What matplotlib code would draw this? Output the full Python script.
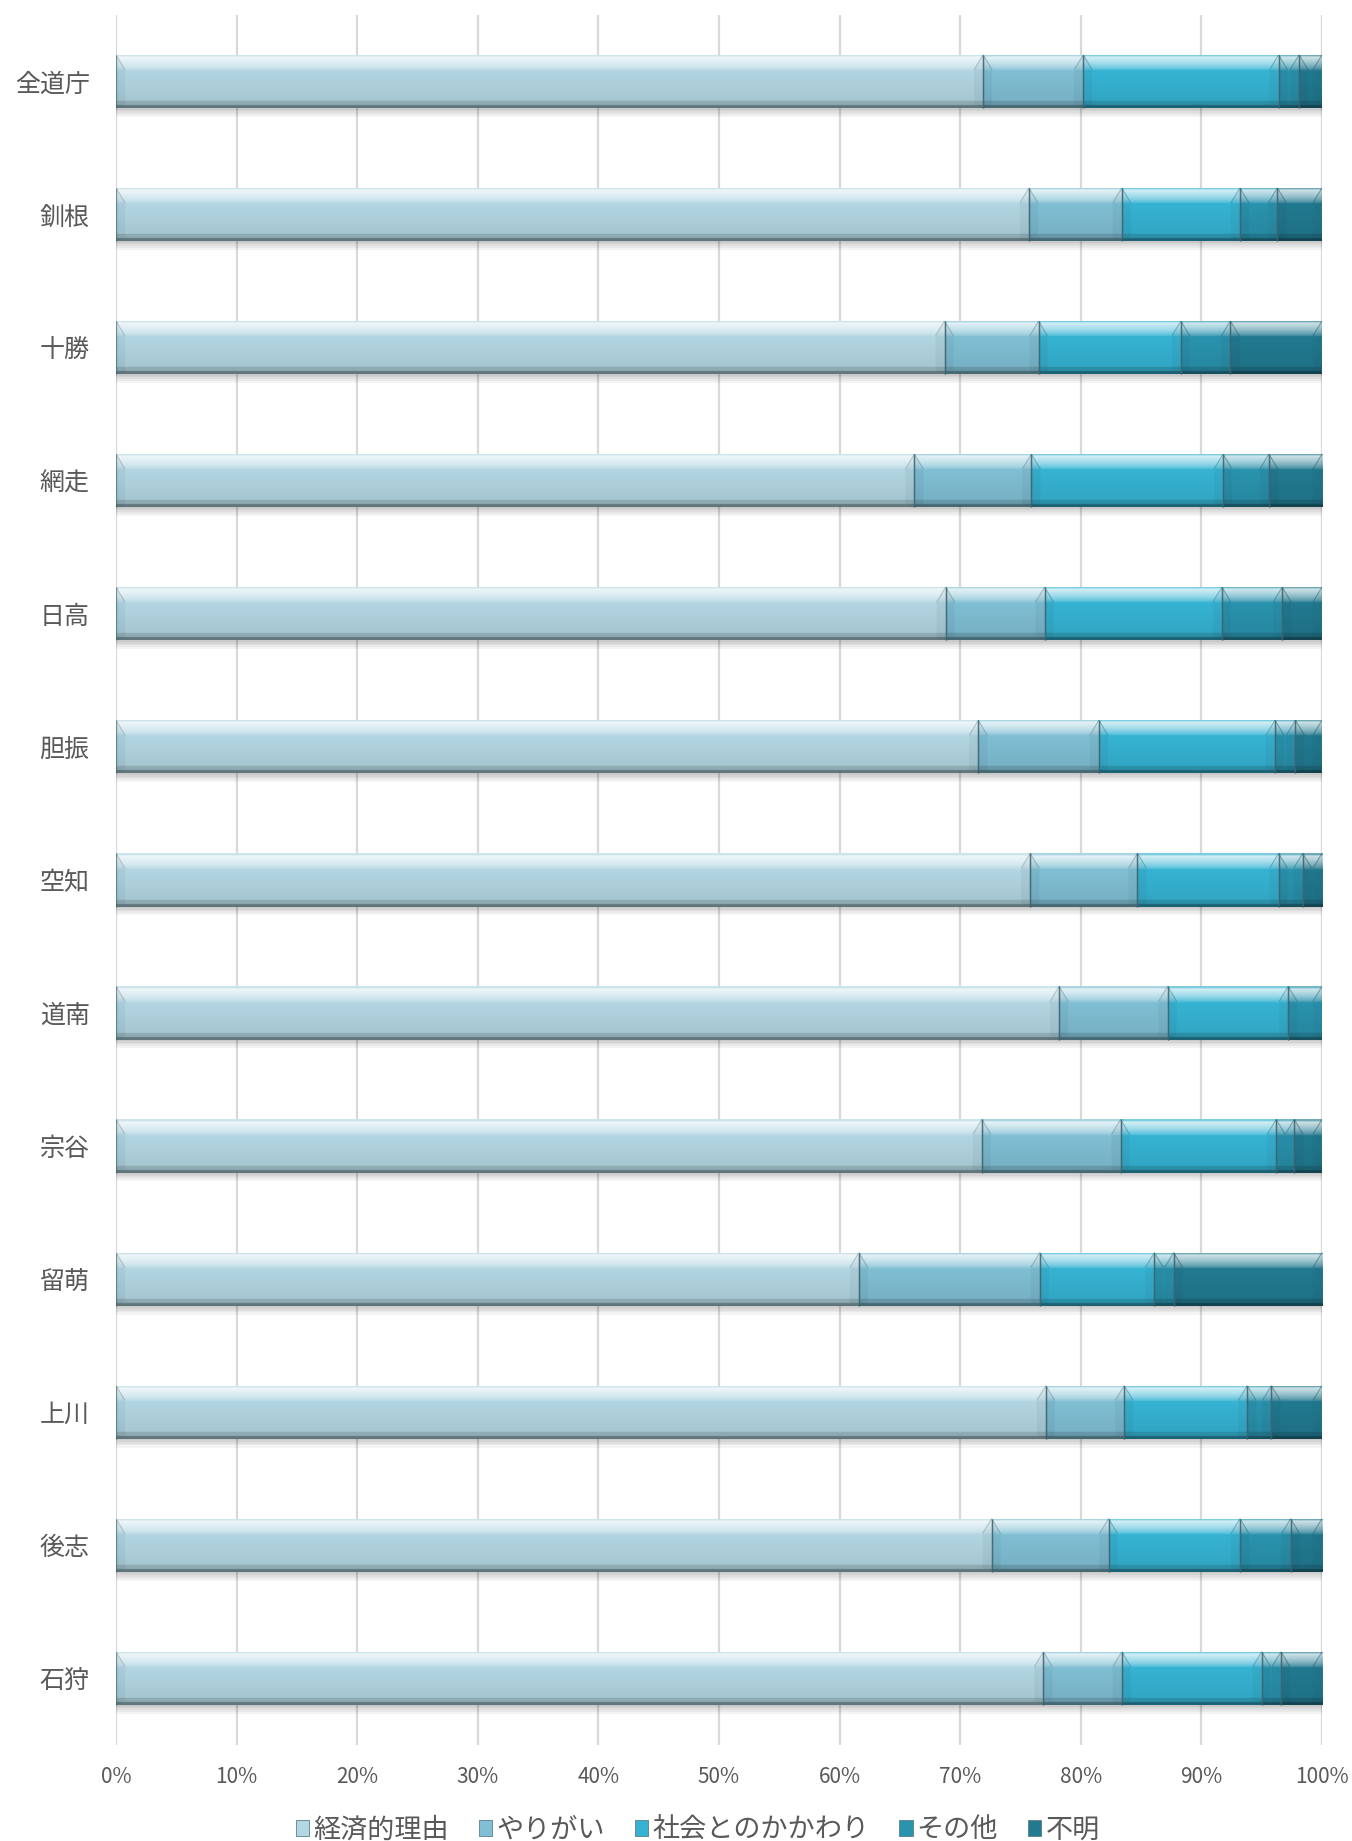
import numpy as np
import matplotlib
matplotlib.use("Agg")
import matplotlib.pyplot as plt
from matplotlib.colors import to_rgb
from matplotlib.patches import Patch

plt.rcParams['font.family'] = ['Noto Sans CJK JP', 'DejaVu Sans']

# ---- data (percent of respondents per region) ----
regions = ["全道庁", "釧根", "十勝", "網走", "日高", "胆振", "空知",
           "道南", "宗谷", "留萌", "上川", "後志", "石狩"]
series_names = ["経済的理由", "やりがい", "社会とのかかわり", "その他", "不明"]
economic   = [71.9, 75.7, 68.7, 66.2, 68.8, 71.5, 75.8, 78.2, 71.8, 61.6, 77.1, 72.6, 76.9]
fulfilment = [8.3, 7.7, 7.8, 9.7, 8.2, 10.0, 8.9, 9.0, 11.5, 15.0, 6.5, 9.7, 6.5]
social     = [16.2, 9.8, 11.8, 15.9, 14.7, 14.6, 11.7, 10.0, 12.9, 9.5, 10.2, 10.9, 11.6]
other      = [1.7, 3.1, 4.1, 3.8, 5.0, 1.7, 2.0, 2.8, 1.5, 1.6, 2.0, 4.2, 1.6]
unknown    = [1.9, 3.7, 7.6, 4.4, 3.3, 2.2, 1.6, 0.0, 2.3, 12.3, 4.2, 2.6, 3.4]
tick_values = [0, 10, 20, 30, 40, 50, 60, 70, 80, 90, 100]
tick_labels = ["0%", "10%", "20%", "30%", "40%", "50%", "60%", "70%", "80%", "90%", "100%"]

series = [economic, fulfilment, social, other, unknown]
colors = ["#b2d6e2", "#80bfd4", "#36b3d3", "#2a93ae", "#227a91"]
text_color = "#595959"
bar_h = 0.4


def bevel_gradient(base, n=90):
    """Vertical colour ramp giving a bevelled, glossy bar look."""
    base = np.array(to_rgb(base))
    white = np.ones(3)
    rows = []
    for t in np.linspace(0, 1, n):
        if t < 0.035:
            c = base + (white - base) * 0.35
        elif t < 0.30:
            k = 0.80 * (1 - (t - 0.035) / 0.265) ** 0.6
            c = base + (white - base) * k
        elif t < 0.87:
            c = base * (1 - 0.07 * (t - 0.30) / 0.57)
        elif t < 0.955:
            c = base * 0.80
        else:
            c = base * 0.55
        rows.append(np.clip(c, 0, 1))
    return np.array(rows)[:, None, :]


fig = plt.figure(figsize=(13.52, 18.41), dpi=100)
ax = fig.add_axes([0.0858, 0.0522, 0.892, 0.9397])

ypos = np.arange(len(regions))[::-1].astype(float)
totals = np.sum(np.array(series), axis=0)

# soft drop shadow under each bar
for off in [0.012, 0.024, 0.036, 0.050, 0.066]:
    ax.barh(ypos - off, totals, height=bar_h, color="#000000", alpha=0.045,
            linewidth=0, zorder=2)

left = np.zeros(len(regions))
for vals, col in zip(series, colors):
    vals = np.array(vals, dtype=float)
    bc = ax.barh(ypos, vals, left=left, height=bar_h, color=col,
                 linewidth=0, zorder=3)
    grad = bevel_gradient(col)
    dark = np.array(to_rgb(col)) * 0.70
    for p in bc.patches:
        x, y, w, h = p.get_x(), p.get_y(), p.get_width(), p.get_height()
        if w <= 0:
            continue
        im = ax.imshow(grad, extent=(x, x + w, y, y + h), origin="upper",
                       aspect="auto", interpolation="bilinear", zorder=4)
        im.set_clip_path(p)
        # side faces of the bevel, slightly shaded
        dx = min(0.75, w / 2)
        dy = 0.28 * h
        for xe, sgn in ((x, 1), (x + w, -1)):
            ax.fill([xe, xe + sgn * dx, xe + sgn * dx, xe],
                    [y + h, y + h - dy, y + 0.06 * h, y],
                    color="#1b3a44", alpha=0.06, lw=0, zorder=5)
            ax.plot([xe, xe + sgn * dx], [y + h, y + h - dy], color=dark,
                    lw=0.8, alpha=0.45, zorder=5, solid_capstyle="butt")
        # segment edges
        ax.vlines([x, x + w], y, y + h, colors="#3e6470", lw=1.0,
                  alpha=0.65, zorder=6)
    left += vals

ax.set_xlim(0, 100)
ax.set_ylim(-0.5, len(regions) - 0.5)
ax.set_xticks(tick_values)
ax.set_xticklabels(tick_labels)
ax.set_yticks(ypos)
ax.set_yticklabels(regions)
ax.tick_params(axis="x", length=0, pad=15, labelsize=15, labelcolor=text_color)
ax.tick_params(axis="y", length=0, pad=19, labelsize=18, labelcolor=text_color)
ax.xaxis.grid(True, color="#d9d9d9", lw=1.6)
ax.set_axisbelow(True)
for s in ax.spines.values():
    s.set_visible(False)

handles = [Patch(facecolor=c, edgecolor="#5a7f8a", linewidth=0.6) for c in colors]
fig.legend(handles, series_names, loc="center", bbox_to_anchor=(0.516, 0.006),
           ncol=5, frameon=False, fontsize=19.5, handlelength=0.5,
           handleheight=0.5, handletextpad=0.15, columnspacing=1.1,
           borderpad=0, labelcolor=text_color)

fig.savefig("out.png", dpi=100)
